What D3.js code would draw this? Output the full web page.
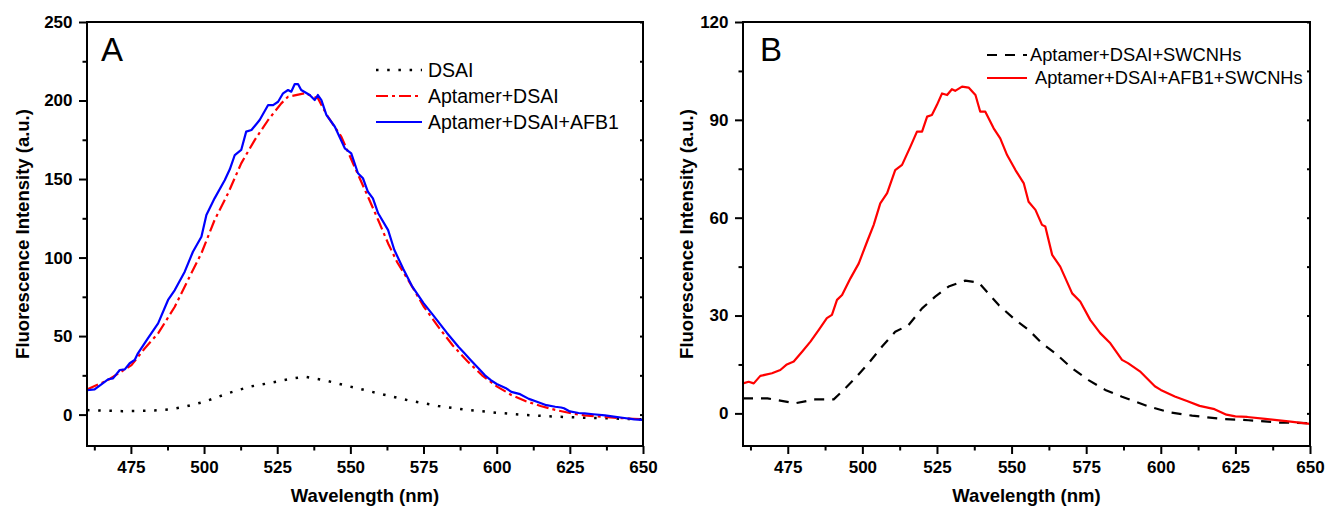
<!DOCTYPE html>
<html>
<head>
<meta charset="utf-8">
<script src="https://cdn.jsdelivr.net/npm/d3@7"></script>
<style>
  body { margin: 0; background: #fff; }
  svg text { font-family: "Liberation Sans", Arial, sans-serif; }
</style>
</head>
<body>
<script>
var svgWidth = 1338;
var svgHeight = 511;

// ---- data ----
var xTicks = [475, 500, 525, 550, 575, 600, 625, 650];
var xMinor = [462.5, 487.5, 512.5, 537.5, 562.5, 587.5, 612.5, 637.5];
var aYTicks = [0, 50, 100, 150, 200, 250];
var aYMinor = [25, 75, 125, 175, 225];
var bYTicks = [0, 30, 60, 90, 120];
var bYMinor = [15, 45, 75, 105];

// panel A
var dsaiX = [460, 466, 472, 477.4, 483, 488.8, 493.4, 500.2, 508.2, 515.6, 523, 530.4, 534.4, 541.8, 549.2, 557.2, 560.6, 570, 580, 590, 600, 610, 620, 630, 640, 650];
var dsaiY = [2.9, 2.5, 2.2, 2.3, 2.6, 3.4, 5, 8.2, 13.6, 17.8, 20.3, 23.1, 24.1, 21.6, 18.2, 14.6, 13.1, 9, 5.5, 3, 1.2, -0.3, -1.3, -2, -2.5, -3];
var aptX = [460, 467.2, 475.2, 479.7, 484.3, 490, 494.5, 499.1, 503.6, 508.2, 512.7, 517.3, 521.9, 526.4, 528.7, 534.4, 538.9, 542.3, 546.9, 551.4, 556, 559.5, 562.9, 566, 570, 575, 580, 585, 590, 595, 600, 605, 610, 615, 620, 625, 630, 640, 650];
var aptY = [16, 22, 31.5, 42.1, 51.7, 68.7, 85.7, 102.7, 123.9, 140.9, 160, 174.8, 187.6, 198.2, 202.4, 204.6, 201.4, 189.7, 177, 157.9, 138.8, 123.9, 109, 97, 85, 69, 56, 44, 34, 25, 18, 12.5, 8.5, 5.5, 3, 1, -0.5, -2, -3];
var afbX = [460, 462.6, 467.2, 468.9, 471.2, 472.9, 474.6, 476.3, 477.4, 480.8, 484.3, 487.7, 490, 493.4, 496.2, 499.1, 500.8, 503.6, 507.1, 508.8, 510.5, 512.7, 514.4, 516.2, 519, 521.9, 523.6, 525.3, 527, 528.7, 529.8, 531, 532.1, 533.2, 536.1, 537.8, 538.9, 540.1, 541.8, 544.7, 548.1, 550.3, 552.6, 554.3, 556, 557.7, 559.5, 562.9, 565, 568, 571, 575, 578, 583, 587, 589, 591, 594, 596, 598, 600, 603, 605, 608, 611, 614, 617, 620, 622, 623, 625, 628, 630, 633, 637, 640, 643, 647, 650];
var afbY = [15.5, 16.1, 22.5, 23.1, 28.4, 28.8, 32.7, 34.8, 39, 48.6, 58.1, 73, 79.3, 91, 103.7, 113.3, 127.1, 137.7, 149.4, 156.2, 165.3, 168.5, 180.2, 181.2, 187.6, 197.1, 197.1, 199.2, 204.6, 206.7, 205.6, 210.5, 210.5, 206.7, 203.5, 200.3, 203.5, 200.3, 190.8, 183.3, 169.6, 166.4, 153.7, 150.5, 141.9, 137.7, 128.2, 117.5, 105, 93, 82, 71, 64, 52, 43, 39, 35, 29, 25, 22, 19.5, 17, 14.5, 13, 10, 8, 6, 5, 4.5, 4, 2, 1, 0.8, 0.2, -0.5, -1.3, -2, -3, -3.4];

// panel B
var swX = [460, 468.2, 477.5, 484.2, 490.4, 493.2, 497.6, 502.1, 506.6, 511, 515.5, 520, 524.4, 528.9, 534.5, 539, 541.2, 545.7, 551.3, 555.7, 560.2, 564.7, 570.3, 575.8, 581.4, 587, 596, 603, 610.5, 620.6, 629.4, 639.5, 650];
var swY = [4.6, 4.6, 3.1, 4.3, 4.3, 6.7, 10.8, 15.4, 20.5, 25, 27.1, 32.2, 35.8, 38.9, 40.7, 40.1, 37.8, 33.2, 28.6, 25.6, 21.5, 18.4, 13.8, 10.2, 7.2, 5.1, 2.1, 0.3, -0.7, -1.7, -2.1, -2.8, -3];
var afbSwX = [460, 461.9, 463.6, 465.8, 469.7, 472.5, 474.7, 477, 479.8, 482.6, 485.4, 488.1, 489.8, 491.5, 493.2, 496, 498.8, 501.6, 503.8, 506, 508.3, 511, 513.3, 516.1, 518.3, 520, 521.7, 523.3, 525, 526.7, 528.4, 530, 531.1, 533.4, 535.6, 537.9, 539.5, 541.2, 544, 546.2, 548.5, 551.3, 554.1, 555.7, 558, 560.2, 561.3, 563.6, 566.3, 570.3, 573, 576.4, 579.7, 583.1, 587, 589, 593, 598, 600, 604.7, 609, 613, 618, 622, 625, 629, 635, 642, 650];
var afbSwY = [9.2, 9.7, 9.2, 11.5, 12.3, 13.3, 15, 15.9, 18.9, 22, 25.6, 29.2, 30.2, 34.8, 36.3, 41.4, 46, 52.7, 57.8, 64.4, 67.5, 74.6, 76.2, 81.8, 86.4, 86.4, 91, 91.5, 94.6, 98.1, 97.6, 99.4, 98.9, 100.2, 99.9, 97.6, 92.5, 92.5, 87.4, 84.3, 79.2, 74.6, 70.5, 64.9, 62.4, 57.8, 57.3, 48.6, 45, 36.8, 34.3, 28.6, 24.6, 21.5, 16.4, 15.4, 12.9, 8.3, 7.2, 5.2, 3.7, 2.3, 1.3, -0.4, -0.9, -1.1, -1.7, -2.4, -3.2];

// ---- layout ----
var svg = d3.select("body")
            .append("svg")
            .attr("width", svgWidth)
            .attr("height", svgHeight);

function drawPanel(p) {
  var width = p.right - p.left;
  var height = p.bottom - p.top;

  var g = svg.append("g")
             .attr("transform", `translate(${p.left}, ${p.top})`);

  var x = d3.scaleLinear().domain([460, 650]).range([0, width]);
  var y = d3.scaleLinear().domain(p.yDomain).range([height, 0]);

  // curves
  var line = d3.line()
               .x(d => x(d[0]))
               .y(d => y(d[1]));

  p.series.forEach(function(s) {
    var pts = s.xs.map((v, i) => [v, s.ys[i]]);
    g.append("path")
     .datum(pts)
     .attr("fill", "none")
     .attr("stroke", s.color)
     .attr("stroke-width", s.width)
     .attr("stroke-dasharray", s.dash)
     .attr("stroke-linejoin", "round")
     .attr("d", line);
  });

  // axes
  var axisStyle = function(sel, labels) {
    sel.select(".domain").remove();
    sel.selectAll("line").attr("stroke", "#000").attr("stroke-width", 2);
    if (labels) {
      sel.selectAll("text")
         .attr("fill", "#000")
         .style("font-size", "17px")
         .style("font-weight", "bold");
    }
  };

  g.append("g")
   .attr("transform", `translate(0, ${height})`)
   .call(d3.axisBottom(x).tickValues(xTicks).tickSize(8).tickPadding(7).tickFormat(d3.format("d")))
   .call(s => axisStyle(s, true));
  g.append("g")
   .attr("transform", `translate(0, ${height})`)
   .call(d3.axisBottom(x).tickValues(xMinor).tickSize(4.5).tickFormat(""))
   .call(s => axisStyle(s, false));

  g.append("g")
   .call(d3.axisLeft(y).tickValues(p.yTicks).tickSize(8).tickPadding(6.5).tickFormat(d3.format("d")))
   .call(s => axisStyle(s, true));
  g.append("g")
   .call(d3.axisLeft(y).tickValues(p.yMinor).tickSize(4.5).tickFormat(""))
   .call(s => axisStyle(s, false));

  // right side, short ticks pointing inward
  g.append("g")
   .attr("transform", `translate(${width}, 0)`)
   .call(d3.axisLeft(y).tickValues(p.yTicks.concat(p.yMinor)).tickSize(3).tickFormat(""))
   .call(s => axisStyle(s, false));

  // frame
  g.append("rect")
   .attr("width", width)
   .attr("height", height)
   .attr("fill", "none")
   .attr("stroke", "#000")
   .attr("stroke-width", 2);

  // axis titles
  g.append("text")
   .attr("x", width / 2)
   .attr("y", height + 56)
   .attr("text-anchor", "middle")
   .style("font-size", "18.5px")
   .style("font-weight", "bold")
   .text("Wavelength (nm)");

  g.append("text")
   .attr("transform", "rotate(-90)")
   .attr("x", -height / 2)
   .attr("y", p.yTitleX)
   .attr("text-anchor", "middle")
   .style("font-size", "18.5px")
   .style("font-weight", "bold")
   .text("Fluorescence Intensity (a.u.)");

  // panel letter
  g.append("text")
   .attr("x", p.letterX)
   .attr("y", 38.5)
   .style("font-size", "33px")
   .text(p.letter);

  // legend
  p.series.forEach(function(s, i) {
    var ly = p.legendY + i * p.legendStep;
    g.append("line")
     .attr("x1", p.legendX - p.left)
     .attr("x2", p.legendX - p.left + p.legendLen)
     .attr("y1", ly)
     .attr("y2", ly)
     .attr("stroke", s.color)
     .attr("stroke-width", s.width)
     .attr("stroke-dasharray", s.dash);
    g.append("text")
     .attr("x", p.legendX - p.left + p.legendLen + s.gap)
     .attr("y", ly)
     .attr("dy", "0.35em")
     .style("font-size", p.legendFont)
     .text(s.name);
  });
}

drawPanel({
  left: 87, right: 643, top: 22, bottom: 446,
  yDomain: [-20, 250], yTicks: aYTicks, yMinor: aYMinor,
  yTitleX: -58.5, letter: "A", letterX: 14,
  legendX: 376, legendY: 70 - 22, legendStep: 26, legendLen: 46, legendFont: "19.5px",
  series: [
    {name: "DSAI", xs: dsaiX, ys: dsaiY, color: "#000", width: 2.5, dash: "2.5,8.7", gap: 6},
    {name: "Aptamer+DSAI", xs: aptX, ys: aptY, color: "#ff0000", width: 2.2, dash: "12,4,3,4", gap: 6},
    {name: "Aptamer+DSAI+AFB1", xs: afbX, ys: afbY, color: "#0000ff", width: 2.2, dash: null, gap: 6}
  ]
});

drawPanel({
  left: 743, right: 1310, top: 22, bottom: 446,
  yDomain: [-10, 120], yTicks: bYTicks, yMinor: bYMinor,
  yTitleX: -50, letter: "B", letterX: 17,
  legendX: 987, legendY: 55 - 22, legendStep: 23, legendLen: 40, legendFont: "18.3px",
  series: [
    {name: "Aptamer+DSAI+SWCNHs", xs: swX, ys: swY, color: "#000", width: 2.2, dash: "10,8", gap: 3},
    {name: "Aptamer+DSAI+AFB1+SWCNHs", xs: afbSwX, ys: afbSwY, color: "#ff0000", width: 2.2, dash: null, gap: 8}
  ]
});
</script>
</body>
</html>
